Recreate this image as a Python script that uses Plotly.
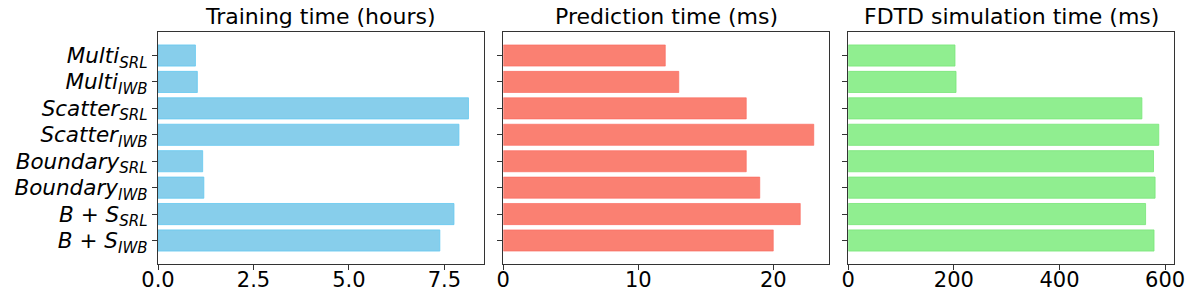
import plotly.graph_objects as go

categories = [
    "<i>Multi<sub>SRL</sub></i>",
    "<i>Multi<sub>IWB</sub></i>",
    "<i>Scatter<sub>SRL</sub></i>",
    "<i>Scatter<sub>IWB</sub></i>",
    "<i>Boundary<sub>SRL</sub></i>",
    "<i>Boundary<sub>IWB</sub></i>",
    "<i>B</i> + <i>S<sub>SRL</sub></i>",
    "<i>B</i> + <i>S<sub>IWB</sub></i>",
]
training_hours = [0.98, 1.03, 8.13, 7.88, 1.17, 1.20, 7.75, 7.38]
prediction_ms = [12.0, 13.0, 18.0, 23.0, 18.0, 19.0, 22.0, 20.0]
fdtd_ms = [202, 204, 556, 588, 578, 581, 563, 579]

titles = ["Training time (hours)", "Prediction time (ms)", "FDTD simulation time (ms)"]
colors = ["#87CEEB", "#FA8072", "#90EE90"]
edges = ["rgba(100,200,240,0.8)", "rgba(250,100,90,0.6)", "rgba(120,230,120,0.8)"]
series = [training_hours, prediction_ms, fdtd_ms]
xticks = [[0, 2.5, 5, 7.5], [0, 10, 20], [0, 200, 400, 600]]
xticktext = [["0.0", "2.5", "5.0", "7.5"], ["0", "10", "20"], ["0", "200", "400", "600"]]

W, H = 1200, 294
xdoms = [(158 / W, 484 / W), (503.3 / W, 829.3 / W), (848.3 / W, 1174.3 / W)]
ydom = (1 - 264 / H, 1 - 32 / H)

fig = go.Figure()
n = len(categories)
ypos = list(range(n))
for i in range(3):
    ax = "" if i == 0 else str(i + 1)
    fig.add_trace(go.Bar(
        x=series[i], y=ypos, orientation="h", width=0.8,
        marker=dict(color=colors[i], line=dict(color=edges[i], width=1)),
        xaxis="x" + ax, yaxis="y" + ax, showlegend=False, hoverinfo="skip",
    ))
    vmax = max(series[i])
    ycfg = dict(
        domain=ydom, anchor="x" + ax, range=[n - 0.5 + 0.39, -0.5 - 0.39],
        tickvals=ypos, showticklabels=(i == 0), automargin=False,
        ticks="outside", ticklen=5, tickwidth=1, tickcolor="#333",
        showgrid=False, zeroline=False, showline=True, linecolor="#333",
        linewidth=1.2, mirror=True,
        tickfont=dict(family="DejaVu Sans", size=21.5, color="black"),
    )
    if i == 0:
        ycfg["ticktext"] = categories
    fig.update_layout(**{
        "xaxis" + ax: dict(
            domain=xdoms[i], anchor="y" + ax, range=[0, vmax * 1.05],
            tickvals=xticks[i], ticktext=xticktext[i], automargin=False,
            ticks="outside", ticklen=5, tickwidth=1, tickcolor="#333",
            ticklabelstandoff=-8,
            showgrid=False, zeroline=False, showline=True, linecolor="#333",
            linewidth=1.2, mirror=True,
            tickfont=dict(family="DejaVu Sans", size=21, color="black"),
        ),
        "yaxis" + ax: ycfg,
    })
    fig.add_annotation(
        text=titles[i], xref="paper", yref="paper",
        x=(xdoms[i][0] + xdoms[i][1]) / 2, y=1 - 17 / H,
        xanchor="center", yanchor="middle", showarrow=False,
        font=dict(family="DejaVu Sans", size=22, color="black"),
    )

fig.update_layout(
    width=W, height=H, margin=dict(l=0, r=0, t=0, b=0),
    paper_bgcolor="white", plot_bgcolor="white", bargap=0.2,
)
fig.write_html(
    "out.html",
    config={"displayModeBar": False},
    post_script="document.body.style.margin='0';document.body.style.overflow='hidden';",
)
